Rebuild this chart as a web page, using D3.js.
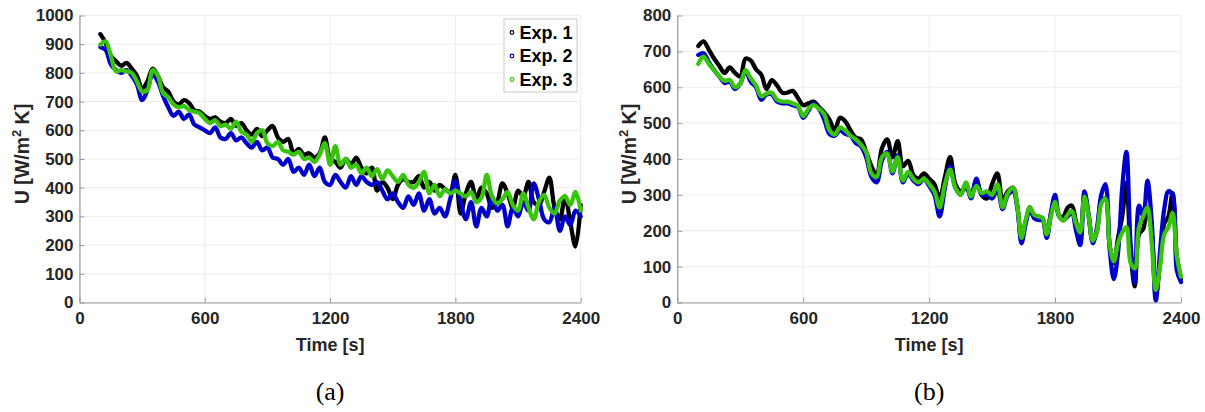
<!DOCTYPE html>
<html>
<head>
<meta charset="utf-8">
<script src="https://cdn.jsdelivr.net/npm/d3@7"></script>
<style>
  body { margin: 0; background: #fff; }
  svg { display: block; }
</style>
</head>
<body>
<svg id="fig" width="1205" height="412"></svg>
<script>
// ---- Panel (a): overall heat transfer coefficient, 25 s sampling ----
const timeA = [100,125,150,175,200,225,250,275,300,325,350,375,400,425,450,475,500,525,550,575,
  600,625,650,675,700,725,750,775,800,825,850,875,900,925,950,975,1000,1025,1050,1075,
  1100,1125,1150,1175,1200,1225,1250,1275,1300,1325,1350,1375,1400,1425,1450,1475,1500,1525,1550,1575,
  1600,1625,1650,1675,1700,1725,1750,1775,1800,1825,1850,1875,1900,1925,1950,1975,2000,2025,2050,2075,
  2100,2125,2150,2175,2200,2225,2250,2275,2300,2325,2350,2375,2400];
const exp1A = [935,905,860,840,825,835,815,790,745,770,
  815,790,750,735,700,690,705,695,670,665,
  650,640,645,630,625,640,615,625,600,585,
  605,580,600,615,575,560,570,520,535,515,
  520,505,520,575,500,490,470,500,480,505,
  470,450,470,390,420,400,360,410,430,420,
  420,440,400,420,390,410,395,385,445,310,
  380,420,360,400,380,330,350,415,380,330,
  390,370,420,350,340,385,435,330,290,370,
  280,195,340];
const exp2A = [890,880,830,810,800,810,790,760,705,740,
  795,770,720,680,650,665,640,655,620,610,
  600,590,610,575,570,590,565,575,555,540,
  560,530,540,505,500,480,500,455,470,445,
  480,440,470,420,410,445,420,400,440,410,
  440,420,410,420,390,360,380,350,330,370,
  340,380,320,360,310,330,300,360,425,350,
  290,350,265,330,300,370,320,340,265,330,
  300,350,320,415,360,290,280,330,250,300,
  270,320,300];
const exp3A = [898,910,860,805,810,805,800,770,735,740,
  810,790,730,715,690,680,685,670,665,660,
  640,625,635,615,620,605,630,595,585,560,
  590,600,555,545,560,530,525,515,525,500,
  505,490,515,555,480,545,480,500,470,480,
  450,470,440,465,430,460,440,420,445,410,
  400,420,455,380,410,370,395,380,390,380,
  370,385,350,365,445,370,345,360,385,340,
  320,380,330,290,350,375,330,310,355,370,
  340,385,320];

// ---- Panel (b): 25 s sampling up to 1600 s, 20 s afterwards ----
const timeB = [100,125,150,175,200,225,250,275,300,325,350,375,400,425,450,475,500,525,550,575,
  600,625,650,675,700,725,750,775,800,825,850,875,900,925,950,975,1000,1025,1050,1075,
  1100,1125,1150,1175,1200,1225,1250,1275,1300,1325,1350,1375,1400,1425,1450,1475,1500,1525,1550,1575,
  1600,
  1620,1640,1660,1680,1700,1720,1740,1760,1780,1800,1820,1840,1860,1880,1900,1920,1940,1960,1980,2000,
  2020,2040,2060,2080,2100,2120,2140,2160,2180,2200,2220,2240,2260,2280,2300,2320,2340,2360,2380,2400];
const exp1B = [715,728,705,680,660,640,655,640,630,680,
  675,650,635,595,620,605,585,585,590,570,
  550,555,560,545,530,510,480,515,505,480,
  460,455,420,380,355,430,455,405,450,380,
  395,355,345,360,345,330,290,350,405,330,
  310,320,300,340,300,290,330,360,285,310,
  320,
  270,175,225,265,240,240,235,185,245,285,
  240,240,265,270,225,190,300,240,170,200,
  280,290,160,110,180,240,335,140,45,190,
  205,260,200,20,110,220,240,305,130,65];
const exp2B = [690,695,670,648,630,612,615,595,610,645,
  615,600,565,580,580,560,555,555,550,545,
  515,535,555,540,510,470,465,480,470,465,
  445,435,405,350,335,395,420,360,410,335,
  360,340,330,345,325,300,240,320,380,320,
  300,330,290,345,300,300,290,315,260,300,
  310,
  265,165,220,260,235,230,230,180,250,300,
  240,230,240,250,200,160,310,245,165,210,
  300,330,150,65,140,320,420,160,55,270,
  240,340,230,5,140,260,310,300,90,57];
const exp3B = [665,685,665,648,630,618,620,600,610,648,
  625,605,575,582,585,565,560,560,555,548,
  520,540,550,540,525,480,468,488,480,465,
  455,440,420,360,350,405,415,365,405,340,
  365,345,335,345,330,310,265,330,370,320,
  300,335,295,325,305,310,300,330,265,305,
  320,
  270,180,230,265,245,240,235,190,240,280,
  240,228,245,255,220,195,295,240,172,200,
  275,290,160,115,165,195,210,110,95,210,
  240,265,170,35,100,190,210,250,130,72];

const timeTicks = [0, 600, 1200, 1800, 2400];
const uTicksA = [0,100,200,300,400,500,600,700,800,900,1000];
const uTicksB = [0,100,200,300,400,500,600,700,800];
const seriesNames = ["Exp. 1", "Exp. 2", "Exp. 3"];
const seriesColors = ["#000000", "#0000c8", "#38c40c"];
const panelTags = ["(a)", "(b)"];

const svg = d3.select("#fig");
const FONT = "'Liberation Sans', Arial, sans-serif";
const AXIS_COLOR = "#9a9a9a";
const GRID_COLOR = "#ececec";
const TEXT_COLOR = "#262626";

function drawPanel(cfg) {
  const x = d3.scaleLinear().domain([0, 2400]).range([cfg.left, cfg.right]);
  const y = d3.scaleLinear().domain([0, cfg.uMax]).range([cfg.bottom, cfg.top]);
  const g = svg.append("g");

  // grid
  g.append("g").selectAll("line").data(cfg.uTicks).join("line")
    .attr("x1", cfg.left).attr("x2", cfg.right)
    .attr("y1", d => y(d)).attr("y2", d => y(d))
    .attr("stroke", GRID_COLOR).attr("stroke-width", 1);
  g.append("g").selectAll("line").data(timeTicks).join("line")
    .attr("x1", d => x(d)).attr("x2", d => x(d))
    .attr("y1", cfg.top).attr("y2", cfg.bottom)
    .attr("stroke", GRID_COLOR).attr("stroke-width", 1);

  // data
  const clipId = "clip-" + cfg.id;
  svg.append("clipPath").attr("id", clipId).append("rect")
    .attr("x", cfg.left).attr("y", cfg.top - 10)
    .attr("width", cfg.right - cfg.left + 4).attr("height", cfg.bottom - cfg.top + 12);
  const line = d3.line()
    .x((d, i) => x(cfg.time[i]))
    .y(d => y(d))
    .curve(d3.curveCatmullRom.alpha(0.5));
  const plot = g.append("g").attr("clip-path", `url(#${clipId})`);
  cfg.series.forEach((vals, k) => {
    plot.append("path").datum(vals)
      .attr("d", line)
      .attr("fill", "none")
      .attr("stroke", seriesColors[k])
      .attr("stroke-width", 4.3)
      .attr("stroke-linejoin", "round")
      .attr("stroke-linecap", "round");
  });

  // axes
  const yAxis = d3.axisLeft(y).tickValues(cfg.uTicks).tickFormat(d3.format("d"))
    .tickSizeInner(-5).tickSizeOuter(0).tickPadding(6);
  const xAxis = d3.axisBottom(x).tickValues(timeTicks).tickFormat(d3.format("d"))
    .tickSizeInner(-5).tickSizeOuter(0).tickPadding(9);
  const ya = g.append("g").attr("transform", `translate(${cfg.left},0)`).call(yAxis);
  const xa = g.append("g").attr("transform", `translate(0,${cfg.bottom})`).call(xAxis);
  [ya, xa].forEach(a => {
    a.select(".domain").attr("stroke", AXIS_COLOR).attr("stroke-width", 1.2);
    a.selectAll(".tick line").attr("stroke", AXIS_COLOR).attr("stroke-width", 1);
    a.selectAll(".tick text")
      .attr("fill", TEXT_COLOR)
      .style("font-family", FONT).style("font-size", "17px").style("font-weight", "bold");
  });

  // axis titles
  const cx = (cfg.left + cfg.right) / 2;
  g.append("text")
    .attr("x", cx).attr("y", 351)
    .attr("text-anchor", "middle")
    .attr("fill", TEXT_COLOR)
    .style("font-family", FONT).style("font-size", "18px").style("font-weight", "bold")
    .text("Time [s]");

  const yl = g.append("text")
    .attr("transform", `translate(${cfg.ylabelX},154) rotate(-90)`)
    .attr("text-anchor", "middle")
    .attr("fill", TEXT_COLOR)
    .style("font-family", FONT).style("font-size", "19.5px").style("font-weight", "bold");
  yl.append("tspan").text("U [W/m");
  yl.append("tspan").attr("dy", -8).style("font-size", "13px").text("2");
  yl.append("tspan").attr("dy", 8).text(" K]");

  // panel tag
  g.append("text")
    .attr("x", cx).attr("y", 400)
    .attr("text-anchor", "middle")
    .attr("fill", "#000")
    .style("font-family", "'Liberation Serif', 'Times New Roman', serif")
    .style("font-size", "26px")
    .text(cfg.tag);

  return { x, y, g };
}

const pa = drawPanel({
  id: "a", left: 79.5, right: 580.7, top: 15.5, bottom: 302.5,
  uMax: 1000, uTicks: uTicksA, time: timeA,
  series: [exp1A, exp2A, exp3A], ylabelX: 29, tag: panelTags[0]
});
drawPanel({
  id: "b", left: 677.3, right: 1181, top: 15.5, bottom: 302.5,
  uMax: 800, uTicks: uTicksB, time: timeB,
  series: [exp1B, exp2B, exp3B], ylabelX: 636, tag: panelTags[1]
});

// legend in panel (a)
const leg = pa.g.append("g").attr("transform", "translate(504,19)");
leg.append("rect")
  .attr("width", 73).attr("height", 73)
  .attr("fill", "#fff").attr("stroke", "#c8c8c8").attr("stroke-width", 1);
seriesNames.forEach((name, k) => {
  const row = leg.append("g").attr("transform", `translate(0,${13.5 + k * 23.5})`);
  row.append("circle").attr("cx", 8).attr("cy", 0).attr("r", 1.8)
    .attr("fill", "none").attr("stroke", seriesColors[k]).attr("stroke-width", 1.2);
  row.append("text").attr("x", 15.5).attr("y", 0).attr("dy", "0.36em")
    .attr("fill", "#000")
    .style("font-family", FONT).style("font-size", "18px").style("font-weight", "bold")
    .text(name);
});
</script>
</body>
</html>
